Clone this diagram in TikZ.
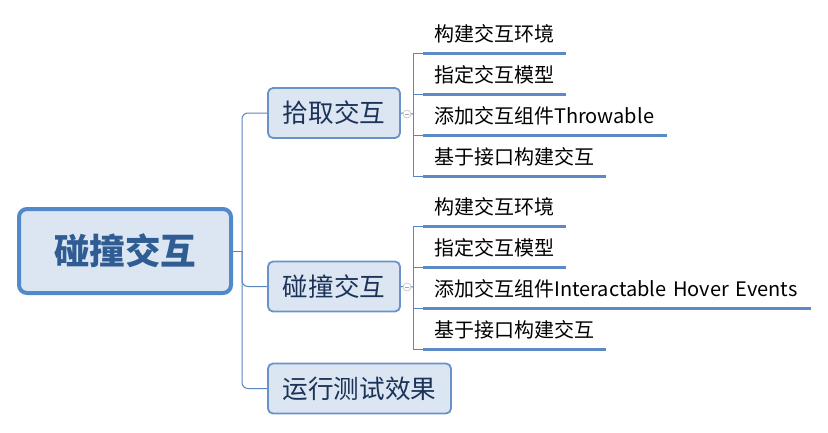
\documentclass[tikz,border=0pt]{standalone}
\usepackage{fontspec}
\setmainfont{Noto Sans CJK SC}
\usetikzlibrary{calc}
\definecolor{linec}{HTML}{5A86C0}
\definecolor{ulinec}{HTML}{5B8AC6}
\definecolor{boxline}{HTML}{6A92C8}
\definecolor{rootline}{HTML}{5289CB}
\definecolor{boxfill}{HTML}{DCE6F2}
\definecolor{topictext}{HTML}{1B3358}
\definecolor{roottext}{HTML}{2F5C92}
\tikzset{
  rootbox/.style={draw=rootline, line width=4pt, fill=boxfill, rounded corners=8pt,
    minimum width=212pt, minimum height=84pt, inner sep=0pt,
    font=\fontsize{35.5}{40}\selectfont\bfseries, text=roottext},
  topic/.style={draw=boxline, line width=1.8pt, fill=boxfill, rounded corners=5pt,
    minimum height=50pt, inner sep=0pt,
    font=\fontsize{25.6}{30}\selectfont, text=topictext},
  leaf/.style={anchor=south west, inner xsep=11pt, inner ysep=7pt, text height=16pt, text depth=4pt,
    font=\fontsize{20}{24}\selectfont, text=black, align=left},
  branch/.style={draw=linec, line width=1pt},
  uline/.style={draw=ulinec, line width=3pt},
  collapse/.style={circle, draw=black!25, fill=white, minimum size=8pt, inner sep=0pt, line width=0.6pt,
    path picture={\draw[black!35, line width=0.6pt] ([xshift=2pt]path picture bounding box.west) -- ([xshift=-2pt]path picture bounding box.east);}}
}
\begin{document}
\begin{tikzpicture}[x=1pt,y=-1pt]
\useasboundingbox (0,0) rectangle (828,432);
% root
\node[rootbox] (root) at (125,251) {碰撞交互};
% topics
\node[topic, minimum width=132pt] (t1) at (334,113) {拾取交互};
\node[topic, minimum width=132pt] (t2) at (334,286.5) {碰撞交互};
\node[topic, minimum width=183pt] (t3) at (359.5,388.5) {运行测试效果};
% trunk
\coordinate (trunk) at (242,251);
\draw[branch] (root.east) -- (trunk);
\draw[branch, rounded corners=6pt] (trunk) |- (t1.west);
\draw[branch, rounded corners=6pt] (trunk) |- (t2.west);
\draw[branch, rounded corners=6pt] (trunk) |- (t3.west);
% group 1 leaves
\node[leaf, text width=121pt] (a1) at (423,53) {构建交互环境};
\node[leaf, text width=121pt] (a2) at (423,94) {指定交互模型};
\node[leaf, text width=222pt] (a3) at (423,135) {添加交互组件Throwable};
\node[leaf, text width=161pt] (a4) at (423,176) {基于接口构建交互};
\coordinate (k1) at (413,114);
\foreach \n in {a1,a2,a3,a4}{
  \draw[branch] (k1) |- (\n.south west);
  \draw[uline] (\n.south west) -- (\n.south east);
}
\draw[branch] (t1.east) -- (k1);
\node[collapse] (c1) at (407,114) {};
% group 2 leaves
\node[leaf, text width=121pt] (b1) at (423,226) {构建交互环境};
\node[leaf, text width=121pt] (b2) at (423,267) {指定交互模型};
\node[leaf, text width=366pt] (b3) at (423,308) {添加交互组件Interactable Hover Events};
\node[leaf, text width=161pt] (b4) at (423,349) {基于接口构建交互};
\coordinate (k2) at (413,287);
\foreach \n in {b1,b2,b3,b4}{
  \draw[branch] (k2) |- (\n.south west);
  \draw[uline] (\n.south west) -- (\n.south east);
}
\draw[branch] (t2.east) -- (k2);
\node[collapse] (c2) at (407,287) {};
\end{tikzpicture}
\end{document}
